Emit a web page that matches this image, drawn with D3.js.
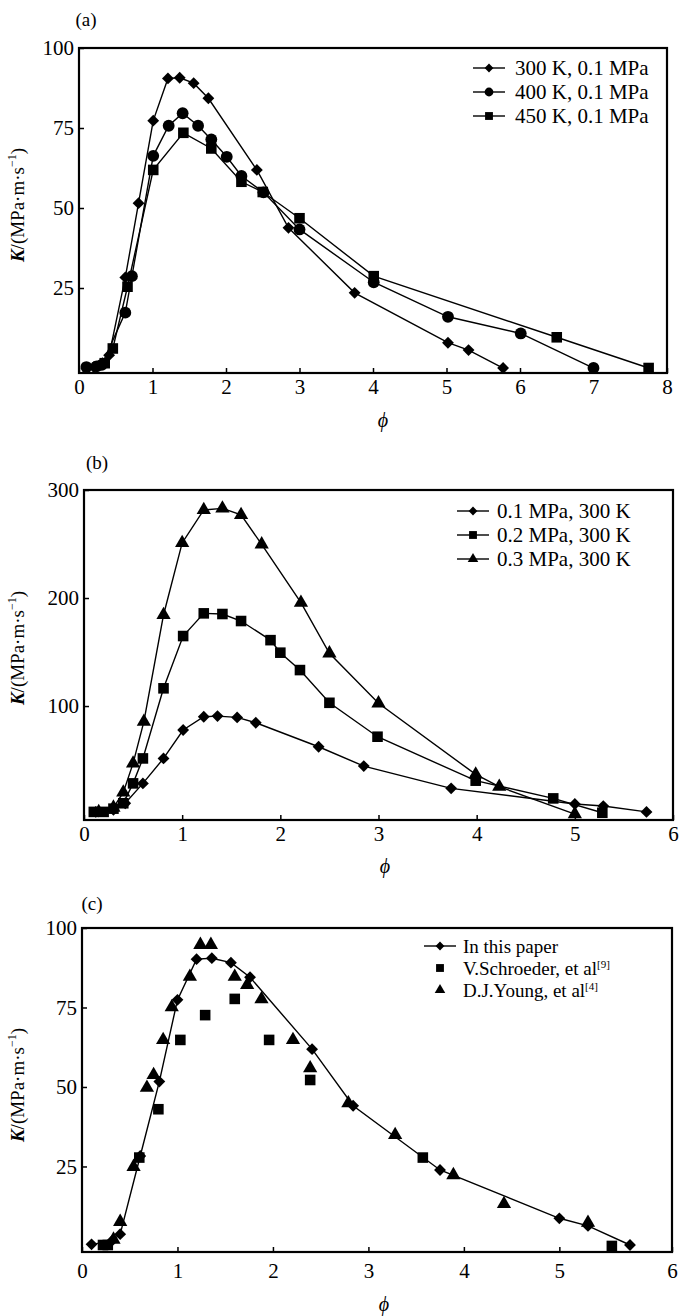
<!DOCTYPE html>
<html>
<head>
<meta charset="utf-8">
<script src="https://d3js.org/d3.v7.min.js"></script>
<style type="text/css">
  body { margin: 0; background: #fff; }
  svg text { font-family: "Liberation Serif", "Times New Roman", serif; fill: #000; }
</style>
</head>
<body>
<svg id="chart" width="690" height="1316"></svg>
<script>
// panel (a): temperature series at 0.1 MPa  [phi, K]
const a300 = [[0.2, 0.3], [0.32, 1.5], [0.41, 4], [0.63, 28.3], [0.81, 51.5], [1.01, 77.3], [1.21, 90.5], [1.37, 90.7], [1.56, 89], [1.76, 84.3], [2.42, 61.9], [2.85, 43.8], [3.75, 23.5], [5.02, 7.9], [5.3, 5.6], [5.77, 0]];
const a400 = [[0.1, 0.3], [0.24, 0.5], [0.31, 1], [0.63, 17.3], [0.72, 28.7], [1.01, 66.3], [1.22, 75.7], [1.41, 79.6], [1.62, 75.7], [1.8, 71.4], [2.01, 66], [2.21, 60], [2.51, 54.9], [3.0, 43.3], [4.01, 26.8], [5.02, 16], [6.01, 10.8], [7.0, 0]];
const a450 = [[0.35, 1.5], [0.46, 6.1], [0.66, 25.4], [1.01, 61.9], [1.42, 73.5], [1.8, 68.6], [2.21, 58.2], [2.5, 55], [3.0, 46.8], [4.01, 28.7], [6.5, 9.6], [7.75, 0]];
const aLabels = ['300 K, 0.1 MPa', '400 K, 0.1 MPa', '450 K, 0.1 MPa'];

// panel (b): pressure series at 300 K
const b01 = [[0.12, 2], [0.3, 4], [0.42, 10], [0.6, 28.4], [0.81, 51.5], [1.01, 77.8], [1.22, 90.1], [1.36, 90.7], [1.56, 89.5], [1.75, 84.5], [2.39, 62.3], [2.85, 44.4], [3.74, 23.8], [5.0, 9.3], [5.29, 7.4], [5.73, 2]];
const b02 = [[0.1, 2], [0.2, 2], [0.3, 5], [0.4, 10], [0.5, 28.4], [0.6, 51.5], [0.81, 116.4], [1.01, 164.8], [1.22, 185.8], [1.41, 185.2], [1.6, 178.7], [1.9, 161], [2.0, 149.4], [2.2, 133.3], [2.5, 103], [2.99, 71.6], [3.99, 30.9], [4.78, 14.5], [5.28, 1.2]];
const b03 = [[0.15, 2], [0.3, 6], [0.4, 20], [0.5, 46.9], [0.61, 85.5], [0.81, 184.3], [1.0, 251], [1.22, 281.5], [1.41, 283], [1.6, 276.9], [1.81, 249.7], [2.21, 195.7], [2.5, 148.8], [3.0, 102.5], [3.99, 36.7], [4.23, 25.3], [5.0, 0]];
const bLabels = ['0.1 MPa, 300 K', '0.2 MPa, 300 K', '0.3 MPa, 300 K'];

// panel (c): comparison with literature
const cPaper = [[0.1, 0.5], [0.31, 1.5], [0.4, 3.7], [0.61, 28.3], [0.81, 51.7], [1.0, 77.4], [1.2, 90.2], [1.36, 90.5], [1.56, 89.1], [1.76, 84.5], [2.41, 61.9], [2.84, 44.1], [3.75, 23.9], [5.0, 8.7], [5.3, 6.3], [5.74, 0.3]];
const cSchroeder = [[0.22, 0.3], [0.27, 0.3], [0.6, 27.8], [0.8, 43], [1.03, 64.8], [1.29, 72.6], [1.6, 77.7], [1.96, 64.8], [2.39, 52.2], [3.57, 27.8], [5.55, 0]];
const cYoung = [[0.33, 2], [0.4, 7.6], [0.54, 24.9], [0.68, 49.8], [0.75, 53.8], [0.85, 64.8], [0.94, 75.1], [1.13, 84.7], [1.24, 94.7], [1.35, 94.7], [1.6, 84.7], [1.73, 82.1], [1.88, 77.6], [2.21, 64.8], [2.39, 55.9], [2.79, 44.9], [3.28, 34.9], [3.89, 22.3], [4.42, 13.2], [5.3, 7.3]];
const cLabels = ['In this paper', 'V.Schroeder, et al', 'D.J.Young, et al'];
const cRefs = ['', '[9]', '[4]'];

const xTicksA = [0, 1, 2, 3, 4, 5, 6, 7, 8];
const xTicks6 = [0, 1, 2, 3, 4, 5, 6];
const yTicks100 = [25, 50, 75, 100];
const yTicks300 = [100, 200, 300];

const serif = '"Liberation Serif", "Times New Roman", serif';
const svg = d3.select('#chart');

const diamond = { type: d3.symbolSquare, size: 70, rot: 45 };
const circle = { type: d3.symbolCircle, size: 110, rot: 0 };
const square = { type: d3.symbolSquare, size: 112, rot: 0 };
const triangle = { type: d3.symbolTriangle, size: 88, rot: 0 };

function drawPanel(p) {
  const g = svg.append('g').attr('font-family', serif);
  const x = d3.scaleLinear().domain(p.xDomain).range([p.left, p.right]);
  const y = d3.scaleLinear().domain(p.yDomain).range([p.bottom, p.top]);

  g.append('text')
    .attr('x', p.tag[0]).attr('y', p.tag[1])
    .attr('text-anchor', 'middle').attr('dy', '0.35em')
    .attr('font-size', 19).attr('font-family', serif)
    .text(p.tagText);

  const xAxis = d3.axisBottom(x)
    .tickValues(p.xTicks)
    .tickSizeInner(-5).tickSizeOuter(0)
    .tickPadding(p.xPad)
    .tickFormat(p.xFormat || (d => d));
  g.append('g')
    .attr('transform', `translate(0 ${p.bottom})`)
    .call(xAxis)
    .attr('font-family', serif)
    .call(s => s.select('.domain').remove())
    .call(s => s.selectAll('line').attr('stroke-width', 1.5))
    .call(s => s.selectAll('text').attr('font-size', 21).attr('font-family', serif));

  g.append('g')
    .attr('transform', `translate(${p.left} 0)`)
    .call(d3.axisLeft(y).tickValues(p.yTicks).tickSizeInner(-5).tickSizeOuter(0).tickPadding(5))
    .attr('font-family', serif)
    .call(s => s.select('.domain').remove())
    .call(s => s.selectAll('line').attr('stroke-width', 1.5))
    .call(s => s.selectAll('text').attr('font-size', 21).attr('font-family', serif));

  g.append('rect')
    .attr('x', p.left).attr('y', p.top)
    .attr('width', p.right - p.left).attr('height', p.bottom - p.top)
    .attr('fill', 'none').attr('stroke', '#000').attr('stroke-width', 2.2);

  // axis titles
  const yl = g.append('text')
    .attr('transform', `translate(${p.yLabel[0]} ${p.yLabel[1]}) rotate(-90)`)
    .attr('text-anchor', 'middle')
    .attr('font-size', 19).attr('font-family', serif);
  yl.append('tspan').attr('font-style', 'italic').attr('font-weight', 'bold').text('K');
  yl.append('tspan').text('/(MPa·m·s');
  yl.append('tspan').attr('font-size', 12).attr('dy', -8).text('−1');
  yl.append('tspan').attr('dy', 8).text(')');

  g.append('text')
    .attr('x', p.phi[0]).attr('y', p.phi[1])
    .attr('text-anchor', 'middle').attr('dy', '0.35em')
    .attr('font-size', 20).attr('font-style', 'italic').attr('font-family', serif)
    .text('ϕ');

  const line = d3.line().x(d => x(d[0])).y(d => y(d[1]));

  p.series.forEach(s => {
    if (s.line) {
      g.append('path')
        .datum(s.data)
        .attr('fill', 'none').attr('stroke', '#000').attr('stroke-width', 1.4)
        .attr('d', line);
    }
    g.append('g').selectAll('path')
      .data(s.data)
      .join('path')
      .attr('transform', d => `translate(${x(d[0])} ${y(d[1])}) rotate(${s.marker.rot})`)
      .attr('d', d3.symbol().type(s.marker.type).size(s.marker.size))
      .attr('fill', '#000');
  });

  // legend
  const lg = g.append('g');
  p.series.forEach((s, i) => {
    const ly = p.legend.y + i * p.legend.step;
    if (s.line) {
      lg.append('line')
        .attr('x1', p.legend.x - 16).attr('x2', p.legend.x + 16)
        .attr('y1', ly).attr('y2', ly)
        .attr('stroke', '#000').attr('stroke-width', 1.4);
    }
    lg.append('path')
      .attr('transform', `translate(${p.legend.x} ${ly}) rotate(${s.marker.rot})`)
      .attr('d', d3.symbol().type(s.marker.type).size(s.marker.size * 0.55))
      .attr('fill', '#000');
    const t = lg.append('text')
      .attr('x', p.legend.x + p.legend.gap).attr('y', ly)
      .attr('dy', '0.35em')
      .attr('font-size', p.legend.size).attr('font-family', serif)
      .text(s.label);
    if (s.ref) {
      t.append('tspan').attr('font-size', 11).attr('dy', -7).text(s.ref);
    }
  });
}

drawPanel({
  left: 79, right: 667, top: 48, bottom: 373,
  xDomain: [0, 8], yDomain: [-1.56, 100],
  xTicks: xTicksA, yTicks: yTicks100, xPad: 6,
  tagText: '(a)', tag: [86, 19],
  yLabel: [24, 205], phi: [383, 420],
  legend: { x: 489, y: 68, step: 24, gap: 26, size: 21 },
  series: [
    { data: a300, marker: diamond, line: true, label: aLabels[0] },
    { data: a400, marker: circle, line: true, label: aLabels[1] },
    { data: a450, marker: square, line: true, label: aLabels[2] }
  ]
});

drawPanel({
  left: 84, right: 673, top: 490, bottom: 820,
  xDomain: [0, 6], yDomain: [-5.5, 300],
  xTicks: xTicks6, yTicks: yTicks300, xPad: 6,
  tagText: '(b)', tag: [97, 462],
  yLabel: [24, 648], phi: [385, 866],
  legend: { x: 473, y: 511, step: 24, gap: 24, size: 21 },
  series: [
    { data: b01, marker: diamond, line: true, label: bLabels[0] },
    { data: b02, marker: square, line: true, label: bLabels[1] },
    { data: b03, marker: triangle, line: true, label: bLabels[2] }
  ]
});

// (c): the frame ends a little past 6, yet the original prints its "6" at the frame edge
drawPanel({
  left: 82, right: 672, top: 928, bottom: 1252,
  xDomain: [0, 6.18], yDomain: [-1.9, 100],
  xTicks: [0, 1, 2, 3, 4, 5, 6.18], yTicks: yTicks100, xPad: 11,
  xFormat: d => (d > 6 ? 6 : d),
  tagText: '(c)', tag: [92, 903],
  yLabel: [24, 1085], phi: [384, 1304],
  legend: { x: 440, y: 946, step: 22, gap: 23, size: 19 },
  series: [
    { data: cPaper, marker: diamond, line: true, label: cLabels[0], ref: cRefs[0] },
    { data: cSchroeder, marker: square, line: false, label: cLabels[1], ref: cRefs[1] },
    { data: cYoung, marker: triangle, line: false, label: cLabels[2], ref: cRefs[2] }
  ]
});
</script>
</body>
</html>
